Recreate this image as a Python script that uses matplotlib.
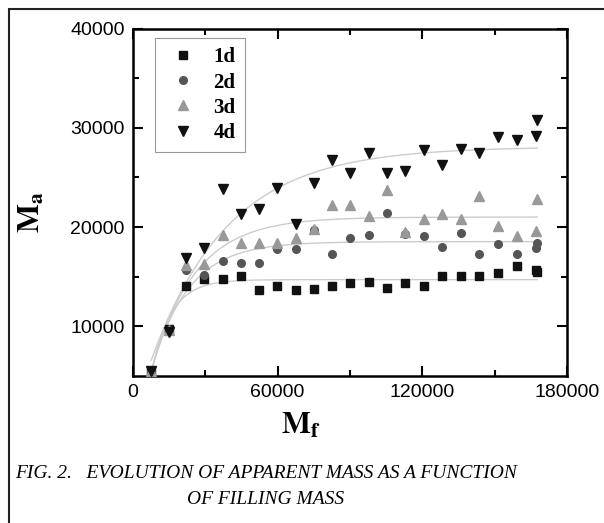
#!/usr/bin/env python3
# -*- coding: utf-8 -*-
"""
Apparent mass vs filling mass, with exponential saturation fits
"""
import numpy as np
import matplotlib
matplotlib.use("Agg")
import matplotlib.pyplot as plt
from matplotlib.patches import Rectangle

# filling mass (x) and apparent mass for each day series
mf = [7600, 15000, 21900, 29600, 37200, 44700, 52300, 59900, 67500, 75000,
      82600, 90200, 97800, 105400, 113000, 120700, 128300, 135900, 143600,
      151400, 159200, 167000, 167700]
ma_1d = [5500, 9700, 14100, 14800, 14800, 15050, 13700, 14100, 13650, 13780,
         14100, 14400, 14500, 13850, 14400, 14100, 15100, 15100, 15050,
         15400, 16050, 15650, 15500]
ma_2d = [5500, 9600, 15700, 15200, 16600, 16400, 16350, 17800, 17750, 19700,
         17250, 18900, 19200, 21450, 19350, 19100, 17950, 19400, 17300,
         18300, 17300, 17900, 18400]
ma_3d = [5500, 9600, 16200, 16300, 19200, 18400, 18400, 18400, 18900, 19800,
         22200, 22200, 21150, 23750, 19500, 20850, 21300, 20850, 23100,
         20150, 19150, 19600, 22800]
ma_4d = [5500, 9400, 16900, 17900, 23800, 21300, 21800, 23900, 20300, 24450,
         26750, 25400, 27500, 25400, 25600, 27750, 26300, 27900, 27500,
         29100, 28800, 29200, 30800]

labels = ["1d", "2d", "3d", "4d"]
markers = ["s", "o", "^", "v"]
colors = ["#111111", "#555555", "#999999", "#111111"]


def expfit(x, y):
    # y = A - B*exp(-x/t), scan t and solve A, B linearly
    best = None
    for t in np.linspace(3000, 80000, 800):
        X = np.column_stack([np.ones_like(x), np.exp(-x / t)])
        coef = np.linalg.lstsq(X, y, rcond=None)[0]
        err = np.sum((X @ coef - y) ** 2)
        if best is None or err < best[0]:
            best = (err, coef, t)
    return best[1], best[2]


plt.rcParams["font.family"] = ["Liberation Sans", "DejaVu Sans"]
plt.rcParams["mathtext.fontset"] = "stix"

fig = plt.figure(figsize=(6.04, 5.23), dpi=100)
ax = fig.add_axes([133 / 604, 1 - 376 / 523, 434 / 604, 347.5 / 523])

x = np.array(mf, dtype=float)
xx = np.linspace(x.min(), x.max(), 300)
for ys in [ma_1d, ma_2d, ma_3d, ma_4d]:
    y = np.array(ys, dtype=float)
    coef, t = expfit(x, y)
    ax.plot(xx, coef[0] + coef[1] * np.exp(-xx / t), color="#cccccc", lw=1.0, zorder=1)
for ys, lab, mk, col in zip([ma_1d, ma_2d, ma_3d, ma_4d], labels, markers, colors):
    ms = 6.5 if mk in ("^", "v") else 5.5
    ax.plot(mf, ys, ls="none", marker=mk, ms=ms, color=col, mec=col, label=lab, zorder=3)

ax.set_xlim(0, 180000)
ax.set_ylim(5000, 40000)
ax.set_xticks([0, 60000, 120000, 180000])
ax.set_xticks([30000, 90000, 150000], minor=True)
ax.set_yticks([10000, 20000, 30000, 40000])
ax.set_yticks([15000, 25000, 35000], minor=True)
ax.tick_params(which="both", direction="in", top=True, right=True, width=1.5,
               labelsize=14, pad=6)
ax.tick_params(which="major", length=7)
ax.tick_params(which="minor", length=4)
for sp in ax.spines.values():
    sp.set_linewidth(1.8)

leg = ax.legend(loc="upper left", bbox_to_anchor=(22 / 434, 1 - 9.5 / 347.5),
                borderaxespad=0, frameon=True, framealpha=1, fancybox=False,
                edgecolor="#999999", handletextpad=0.55, borderpad=0.45,
                labelspacing=0.25, handlelength=1.8,
                prop={"family": "Liberation Serif", "weight": "bold", "size": 15})
leg.get_frame().set_linewidth(0.8)

fig.text(301 / 604, 1 - 426 / 523, r"$\mathbf{M}_\mathbf{f}$", fontsize=22,
         ha="center", va="center")
fig.text(32 / 604, 1 - 212 / 523, r"$\mathbf{M}_\mathbf{a}$", fontsize=22,
         ha="center", va="center", rotation=90)

cap = {"family": "Liberation Serif", "style": "italic", "size": 14}
fig.text(266 / 604, 1 - 474 / 523,
         "FIG. 2.   EVOLUTION OF APPARENT MASS AS A FUNCTION",
         ha="center", va="center", fontdict=cap)
fig.text(266 / 604, 1 - 500 / 523, "OF FILLING MASS",
         ha="center", va="center", fontdict=cap)

fig.patches.append(Rectangle((9 / 604, -0.1), 1.2, 1.1 - 9 / 523, fill=False,
                             lw=1.5, ec="#222222", transform=fig.transFigure,
                             figure=fig))

fig.savefig("out.png", dpi=100)
